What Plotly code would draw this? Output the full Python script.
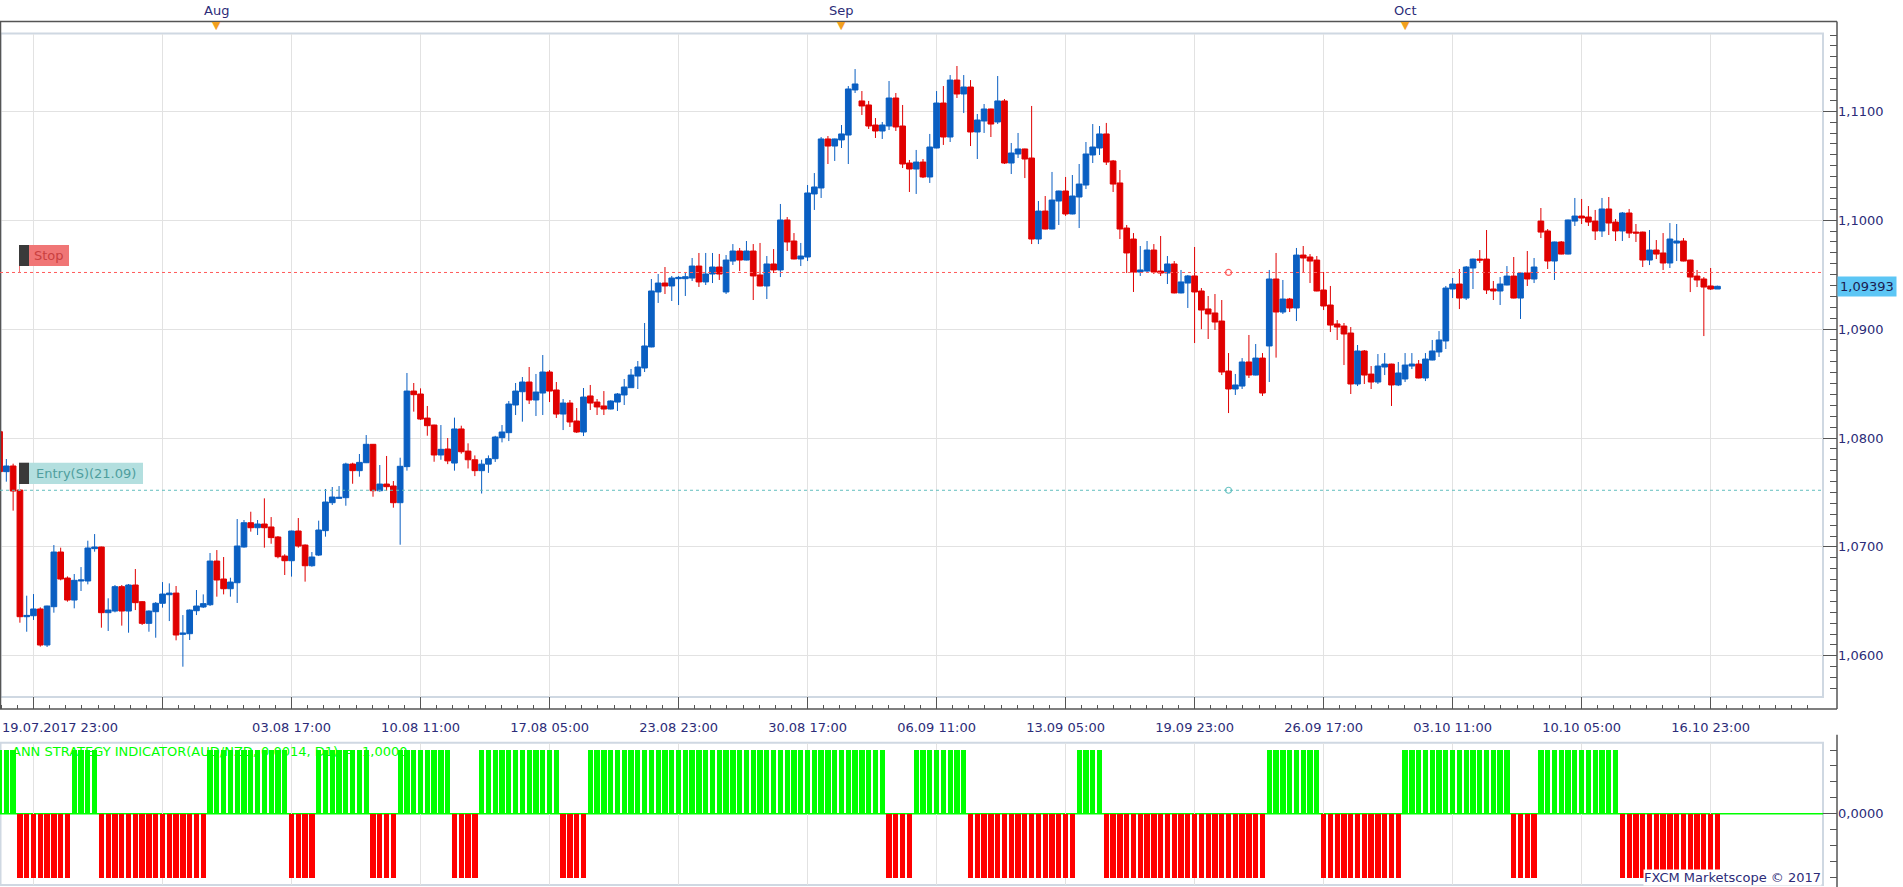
import plotly.graph_objects as go

# ---------------- data ----------------
FIRST_INDEX = -5  # candle index of the left-most candle (19.07.2017 23:00)

OPEN = [1.08058, 1.07691, 1.07743, 1.07522, 1.06359, 1.06368, 1.06430, 1.06099, 1.06451, 1.06953,
        1.06714, 1.06512, 1.06687, 1.06687, 1.06984, 1.06999, 1.06396, 1.06411, 1.06635, 1.06411,
        1.06650, 1.06497, 1.06298, 1.06405, 1.06482, 1.06561, 1.06576, 1.06197, 1.06203, 1.06414,
        1.06448, 1.06469, 1.06870, 1.06705, 1.06616, 1.06671, 1.06999, 1.07222, 1.07176, 1.07210,
        1.07183, 1.07091, 1.06916, 1.06873, 1.07146, 1.07017, 1.06827, 1.06925, 1.07149, 1.07406,
        1.07446, 1.07452, 1.07761, 1.07700, 1.07773, 1.07942, 1.07516, 1.07577, 1.07559, 1.07406,
        1.07737, 1.08431, 1.08404, 1.08183, 1.08119, 1.07844, 1.07899, 1.07770, 1.08083, 1.07880,
        1.07800, 1.07700, 1.07760, 1.07810, 1.08003, 1.08049, 1.08303, 1.08425, 1.08514, 1.08349,
        1.08413, 1.08606, 1.08441, 1.08220, 1.08321, 1.08156, 1.08055, 1.08386, 1.08330, 1.08294,
        1.08266, 1.08330, 1.08395, 1.08462, 1.08569, 1.08643, 1.08836, 1.09341, 1.09423, 1.09396,
        1.09463, 1.09463, 1.09469, 1.09579, 1.09433, 1.09506, 1.09570, 1.09341, 1.09625, 1.09717,
        1.09634, 1.09717, 1.09497, 1.09396, 1.09598, 1.09543, 1.10002, 1.09809, 1.09644, 1.09662,
        1.10241, 1.10296, 1.10746, 1.10681, 1.10737, 1.10782, 1.11196, 1.11095, 1.11058, 1.10874,
        1.10819, 1.10865, 1.11122, 1.10865, 1.10525, 1.10470, 1.10534, 1.10397, 1.10663, 1.11076,
        1.10764, 1.11287, 1.11159, 1.11223, 1.10810, 1.10911, 1.11021, 1.10902, 1.11095, 1.10525,
        1.10608, 1.10654, 1.10571, 1.09827, 1.10084, 1.09919, 1.10176, 1.10268, 1.10057, 1.10213,
        1.10323, 1.10599, 1.10663, 1.10792, 1.10544, 1.10342, 1.09928, 1.09827, 1.09524, 1.09533,
        1.09726, 1.09533, 1.09515, 1.09598, 1.09332, 1.09423, 1.09488, 1.09350, 1.09185, 1.09148,
        1.09074, 1.08615, 1.08450, 1.08477, 1.08698, 1.08578, 1.08734, 1.08845, 1.09460, 1.09157,
        1.09276, 1.09194, 1.09680, 1.09662, 1.09634, 1.09359, 1.09221, 1.09047, 1.09028, 1.08964,
        1.08496, 1.08799, 1.08587, 1.08514, 1.08652, 1.08679, 1.08487, 1.08542, 1.08661, 1.08679,
        1.08551, 1.08716, 1.08790, 1.08891, 1.09368, 1.09414, 1.09285, 1.09561, 1.09643, 1.09643,
        1.09368, 1.09350, 1.09405, 1.09487, 1.09285, 1.09515, 1.09460, 1.09992, 1.09901, 1.09625,
        1.09800, 1.09689, 1.09992, 1.10038, 1.10029, 1.09992, 1.09901, 1.10103, 1.09983, 1.09901,
        1.10066, 1.09891, 1.09891, 1.09634, 1.09726, 1.09699, 1.09607, 1.09790, 1.09809, 1.09634,
        1.09487, 1.09460, 1.09396, 1.09368]

HIGH = [1.08073, 1.07807, 1.07764, 1.07528, 1.06552, 1.06567, 1.06445, 1.06460, 1.07017, 1.06993,
        1.06729, 1.06751, 1.06815, 1.07057, 1.07118, 1.07002, 1.06528, 1.06650, 1.06650, 1.06659,
        1.06797, 1.06503, 1.06417, 1.06494, 1.06677, 1.06665, 1.06641, 1.06374, 1.06426, 1.06604,
        1.06564, 1.06944, 1.06971, 1.06907, 1.06717, 1.07256, 1.07247, 1.07323, 1.07247, 1.07446,
        1.07274, 1.07100, 1.06932, 1.07149, 1.07265, 1.07023, 1.06953, 1.07241, 1.07532, 1.07550,
        1.07559, 1.07773, 1.07773, 1.07853, 1.08027, 1.07945, 1.07752, 1.07835, 1.07605, 1.07819,
        1.08597, 1.08505, 1.08456, 1.08294, 1.08122, 1.08119, 1.08000, 1.08187, 1.08113, 1.07951,
        1.07840, 1.07800, 1.07840, 1.08020, 1.08119, 1.08340, 1.08505, 1.08560, 1.08652, 1.08588,
        1.08762, 1.08624, 1.08514, 1.08358, 1.08349, 1.08275, 1.08459, 1.08487, 1.08358, 1.08431,
        1.08346, 1.08413, 1.08542, 1.08634, 1.08707, 1.09056, 1.09460, 1.09506, 1.09570, 1.09488,
        1.09488, 1.09515, 1.09653, 1.09699, 1.09699, 1.09699, 1.09690, 1.09680, 1.09781, 1.09745,
        1.09809, 1.09781, 1.09791, 1.09671, 1.09735, 1.10149, 1.10029, 1.09882, 1.09791, 1.10323,
        1.10433, 1.10764, 1.10773, 1.10749, 1.10874, 1.11232, 1.11388, 1.11186, 1.11095, 1.10938,
        1.10902, 1.11278, 1.11168, 1.11058, 1.10553, 1.10645, 1.10562, 1.10792, 1.11186, 1.11232,
        1.11333, 1.11416, 1.11333, 1.11287, 1.10975, 1.11067, 1.11024, 1.11324, 1.11113, 1.10709,
        1.10801, 1.10657, 1.11049, 1.10176, 1.10222, 1.10443, 1.10271, 1.10397, 1.10415, 1.10516,
        1.10718, 1.10883, 1.10865, 1.10893, 1.10553, 1.10461, 1.09956, 1.09882, 1.09763, 1.09809,
        1.09781, 1.09855, 1.09671, 1.09625, 1.09543, 1.09497, 1.09754, 1.09377, 1.09304, 1.09322,
        1.09267, 1.08780, 1.08588, 1.08734, 1.08946, 1.08863, 1.08780, 1.09543, 1.09699, 1.09451,
        1.09286, 1.09745, 1.09763, 1.09689, 1.09671, 1.09524, 1.09396, 1.09083, 1.09056, 1.09019,
        1.08854, 1.08808, 1.08661, 1.08771, 1.08780, 1.08682, 1.08698, 1.08780, 1.08780, 1.08716,
        1.08780, 1.08900, 1.08982, 1.09396, 1.09469, 1.09552, 1.09579, 1.09647, 1.09726, 1.09910,
        1.09442, 1.09478, 1.09579, 1.09662, 1.09518, 1.09717, 1.09653, 1.10112, 1.09919, 1.09803,
        1.09809, 1.10005, 1.10204, 1.10195, 1.10130, 1.10094, 1.10204, 1.10213, 1.10011, 1.10075,
        1.10103, 1.09965, 1.09895, 1.09910, 1.09818, 1.09882, 1.09974, 1.09965, 1.09836, 1.09637,
        1.09543, 1.09478, 1.09561, 1.09399]

LOW = [1.07675, 1.07599, 1.07333, 1.06304, 1.06221, 1.06329, 1.06084, 1.06081, 1.06396, 1.06693,
       1.06497, 1.06436, 1.06595, 1.06656, 1.06956, 1.06258, 1.06228, 1.06399, 1.06277, 1.06212,
       1.06420, 1.06283, 1.06221, 1.06166, 1.06442, 1.06319, 1.06142, 1.05900, 1.06145, 1.06374,
       1.06439, 1.06457, 1.06543, 1.06564, 1.06543, 1.06485, 1.06993, 1.07140, 1.07109, 1.06993,
       1.07029, 1.06895, 1.06742, 1.06727, 1.06993, 1.06681, 1.06818, 1.06916, 1.07094, 1.07385,
       1.07440, 1.07378, 1.07580, 1.07645, 1.07770, 1.07461, 1.07507, 1.07513, 1.07360, 1.07020,
       1.07700, 1.08242, 1.08165, 1.08021, 1.07782, 1.07800, 1.07760, 1.07700, 1.07856, 1.07720,
       1.07650, 1.07490, 1.07680, 1.07780, 1.07960, 1.07972, 1.08211, 1.08150, 1.08312, 1.08202,
       1.08211, 1.08330, 1.08184, 1.08073, 1.08101, 1.08046, 1.08018, 1.08257, 1.08211, 1.08211,
       1.08263, 1.08248, 1.08303, 1.08462, 1.08450, 1.08606, 1.08833, 1.09240, 1.09322, 1.09258,
       1.09221, 1.09304, 1.09442, 1.09387, 1.09405, 1.09423, 1.09451, 1.09322, 1.09589, 1.09533,
       1.09631, 1.09267, 1.09393, 1.09276, 1.09515, 1.09478, 1.09717, 1.09641, 1.09579, 1.09625,
       1.10094, 1.10204, 1.10516, 1.10544, 1.10663, 1.10516, 1.11168, 1.10966, 1.10838, 1.10755,
       1.10746, 1.10828, 1.10819, 1.10479, 1.10259, 1.10241, 1.10387, 1.10342, 1.10660, 1.10691,
       1.10718, 1.11122, 1.10984, 1.10681, 1.10562, 1.10801, 1.10764, 1.10883, 1.10516, 1.10424,
       1.10571, 1.10387, 1.09781, 1.09781, 1.09916, 1.09916, 1.09956, 1.10039, 1.10054, 1.09928,
       1.10286, 1.10525, 1.10599, 1.10507, 1.10259, 1.09827, 1.09515, 1.09341, 1.09488, 1.09515,
       1.09506, 1.09488, 1.09414, 1.09328, 1.09328, 1.09194, 1.08872, 1.08999, 1.08909, 1.08992,
       1.08578, 1.08229, 1.08395, 1.08450, 1.08551, 1.08575, 1.08386, 1.08514, 1.08738, 1.09139,
       1.09157, 1.09074, 1.09515, 1.09423, 1.09347, 1.09175, 1.08973, 1.08900, 1.08670, 1.08404,
       1.08477, 1.08496, 1.08450, 1.08496, 1.08578, 1.08294, 1.08477, 1.08514, 1.08633, 1.08548,
       1.08523, 1.08713, 1.08744, 1.08817, 1.09285, 1.09184, 1.09267, 1.09368, 1.09607, 1.09322,
       1.09267, 1.09221, 1.09402, 1.09282, 1.09093, 1.09396, 1.09423, 1.09836, 1.09552, 1.09451,
       1.09686, 1.09686, 1.09947, 1.09965, 1.09947, 1.09818, 1.09846, 1.09864, 1.09809, 1.09809,
       1.09836, 1.09800, 1.09570, 1.09588, 1.09643, 1.09543, 1.09561, 1.09625, 1.09622, 1.09340,
       1.09386, 1.08936, 1.09359, 1.09368]

CLOSE = [1.07691, 1.07743, 1.07513, 1.06359, 1.06371, 1.06430, 1.06099, 1.06457, 1.06953, 1.06705,
         1.06512, 1.06693, 1.06696, 1.06990, 1.06999, 1.06396, 1.06420, 1.06635, 1.06411, 1.06650,
         1.06488, 1.06298, 1.06411, 1.06482, 1.06567, 1.06576, 1.06191, 1.06209, 1.06420, 1.06457,
         1.06479, 1.06870, 1.06696, 1.06616, 1.06677, 1.07008, 1.07222, 1.07176, 1.07210, 1.07176,
         1.07085, 1.06910, 1.06873, 1.07146, 1.07008, 1.06827, 1.06907, 1.07155, 1.07412, 1.07458,
         1.07455, 1.07761, 1.07700, 1.07776, 1.07942, 1.07516, 1.07577, 1.07553, 1.07406, 1.07740,
         1.08431, 1.08398, 1.08174, 1.08113, 1.07844, 1.07896, 1.07790, 1.08083, 1.07874, 1.07800,
         1.07700, 1.07760, 1.07810, 1.08009, 1.08055, 1.08312, 1.08431, 1.08514, 1.08349, 1.08422,
         1.08606, 1.08431, 1.08220, 1.08321, 1.08147, 1.08055, 1.08376, 1.08321, 1.08285, 1.08266,
         1.08340, 1.08404, 1.08468, 1.08578, 1.08652, 1.08845, 1.09350, 1.09423, 1.09396, 1.09469,
         1.09475, 1.09481, 1.09579, 1.09433, 1.09506, 1.09570, 1.09506, 1.09634, 1.09717, 1.09634,
         1.09717, 1.09488, 1.09396, 1.09598, 1.09543, 1.10002, 1.09800, 1.09644, 1.09671, 1.10250,
         1.10305, 1.10746, 1.10681, 1.10746, 1.10792, 1.11205, 1.11251, 1.11049, 1.10865, 1.10819,
         1.10874, 1.11122, 1.10856, 1.10516, 1.10470, 1.10534, 1.10397, 1.10672, 1.11076, 1.10764,
         1.11287, 1.11159, 1.11223, 1.10810, 1.10920, 1.11021, 1.10883, 1.11095, 1.10525, 1.10617,
         1.10654, 1.10562, 1.09827, 1.10084, 1.09919, 1.10185, 1.10268, 1.10057, 1.10222, 1.10332,
         1.10608, 1.10672, 1.10792, 1.10534, 1.10332, 1.09919, 1.09699, 1.09524, 1.09543, 1.09726,
         1.09524, 1.09515, 1.09598, 1.09332, 1.09433, 1.09488, 1.09341, 1.09175, 1.09139, 1.09065,
         1.08606, 1.08450, 1.08487, 1.08698, 1.08578, 1.08734, 1.08413, 1.09460, 1.09157, 1.09276,
         1.09194, 1.09680, 1.09653, 1.09625, 1.09350, 1.09212, 1.09037, 1.09019, 1.08955, 1.08496,
         1.08799, 1.08578, 1.08514, 1.08661, 1.08679, 1.08487, 1.08597, 1.08670, 1.08679, 1.08551,
         1.08725, 1.08799, 1.08900, 1.09377, 1.09414, 1.09285, 1.09570, 1.09643, 1.09634, 1.09359,
         1.09350, 1.09414, 1.09487, 1.09285, 1.09515, 1.09460, 1.09570, 1.09891, 1.09625, 1.09800,
         1.09689, 1.10002, 1.10038, 1.10020, 1.09983, 1.09901, 1.10103, 1.09974, 1.09901, 1.10066,
         1.09882, 1.09882, 1.09634, 1.09726, 1.09689, 1.09607, 1.09827, 1.09809, 1.09625, 1.09478,
         1.09451, 1.09386, 1.09368, 1.09393]

# ANN strategy indicator: +1 (green) / -1 (red), one value per candle
SIGNAL = ([1] * 3 + [-1] * 8 + [1] * 4 + [-1] * 16 + [1] * 12 + [-1] * 4 + [1] * 8 + [-1] * 4 +
          [1] * 8 + [-1] * 4 + [1] * 12 + [-1] * 4 + [1] * 44 + [-1] * 4 + [1] * 8 + [-1] * 16 +
          [1] * 4 + [-1] * 24 + [1] * 8 + [-1] * 12 + [1] * 16 + [-1] * 4 + [1] * 12 + [-1] * 15)

X_TICK_IDX = [0, 19, 38, 57, 76, 95, 114, 133, 152, 171, 190, 209, 228, 247]
X_TICK_TEXT = ["", "", "03.08 17:00", "10.08 11:00", "17.08 05:00", "23.08 23:00", "30.08 17:00",
               "06.09 11:00", "13.09 05:00", "19.09 23:00", "26.09 17:00", "03.10 11:00",
               "10.10 05:00", "16.10 23:00"]
FIRST_LABEL = "19.07.2017 23:00"
MONTHS = ["Aug", "Sep", "Oct"]
MONTH_IDX = [27, 119, 202]

Y_TICK_VALS = [1.06, 1.07, 1.08, 1.09, 1.10, 1.11]
Y_TICK_TEXT = ["1,0600", "1,0700", "1,0800", "1,0900", "1,1000", "1,1100"]

STOP_PRICE = 1.0952
ENTRY_PRICE = 1.0752
ENTRY_IDX = 176
LAST_PRICE = 1.09393
LAST_TEXT = "1,09393"
IND_TITLE = "ANN STRATEGY INDICATOR(AUD/NZD, 0.0014, D1) = -1,0000"

# ---------------- layout constants (pixels) ----------------
W, H = 1903, 887
PLOT_R = 1823
AXIS_X = 1837
AXIS_TOP, MAIN_TOP, MAIN_BOT, AXIS_BOT = 21.5, 33.5, 697, 709
IND_TOP, IND_BOT = 742.7, 885
X0_PX, STEP_PX = 33.5, 6.79
PX_PER_PRICE = 10890.0
Y_REF_PRICE, Y_REF_PX = 1.11, 111.3
IND_PX_PER_UNIT = 63.85

FONT = "DejaVu Sans"
NAVY = "#2c2c78"
AXIS_C = "#555555"
GRID_C = "#e2e2e2"
FRAME_C = "#cfd8e2"


def px(x):
    return x / W


def py(y):
    return 1 - y / H


x_range = [(0 - X0_PX) / STEP_PX, (PLOT_R - X0_PX) / STEP_PX]
y_range = [Y_REF_PRICE - (MAIN_BOT - Y_REF_PX) / PX_PER_PRICE,
           Y_REF_PRICE + (Y_REF_PX - MAIN_TOP) / PX_PER_PRICE]
ind_half = 1 + (IND_BOT - IND_TOP - 2 * IND_PX_PER_UNIT) / 2 / IND_PX_PER_UNIT
y2_range = [-ind_half, ind_half]

idx = list(range(FIRST_INDEX, FIRST_INDEX + len(OPEN)))

fig = go.Figure()

fig.add_trace(go.Candlestick(
    x=idx, open=OPEN, high=HIGH, low=LOW, close=CLOSE,
    increasing=dict(line=dict(color="#0a5fc2", width=1), fillcolor="#0a5fc2"),
    decreasing=dict(line=dict(color="#e00000", width=1), fillcolor="#e00000"),
    whiskerwidth=0, xaxis="x", yaxis="y", showlegend=False, hoverinfo="skip"))

fig.add_trace(go.Scatter(
    x=[ENTRY_IDX, ENTRY_IDX], y=[STOP_PRICE, ENTRY_PRICE], mode="markers",
    marker=dict(symbol="circle-open", size=6, color=["#ff6060", "#6cc4c4"], line=dict(width=1.2)),
    xaxis="x", yaxis="y", showlegend=False, hoverinfo="skip"))

fig.add_trace(go.Bar(
    x=idx, y=SIGNAL, width=0.78,
    marker=dict(color=["#00ff00" if s > 0 else "#ff0000" for s in SIGNAL], line=dict(width=0)),
    xaxis="x3", yaxis="y2", showlegend=False, hoverinfo="skip"))

tick_font = dict(family=FONT, size=13, color=NAVY)

top_major = [4 + 23 * n for n in range(-1, 12)]
top_minor = [15.5 + 23 * n for n in range(-1, 12)]

fig.update_layout(
    width=W, height=H, margin=dict(l=0, r=0, t=0, b=0),
    paper_bgcolor="white", plot_bgcolor="white",
    boxgap=0.16, boxgroupgap=0, bargap=0,
    showlegend=False,
    xaxis=dict(domain=[0, px(PLOT_R)], range=x_range, anchor="free", position=py(AXIS_BOT),
               tickmode="array", tickvals=X_TICK_IDX, ticktext=X_TICK_TEXT,
               ticks="inside", ticklen=12, tickwidth=1, tickcolor=AXIS_C,
               ticklabelstandoff=9,
               showgrid=True, gridcolor=GRID_C, gridwidth=1, zeroline=False, showline=False,
               tickfont=tick_font, rangeslider=dict(visible=False), fixedrange=True,
               minor=dict(tick0=0, dtick=19 / 8, ticks="inside", ticklen=4, tickwidth=1,
                          tickcolor=AXIS_C, showgrid=False)),
    xaxis2=dict(overlaying="x", side="top", anchor="free", position=py(AXIS_TOP),
                range=x_range, tickmode="array", tickvals=top_major,
                ticktext=["" for _ in top_major], ticks="inside", ticklen=7, tickwidth=1,
                tickcolor=AXIS_C, showgrid=False, zeroline=False, showline=False,
                fixedrange=True,
                minor=dict(tickmode="array", tickvals=top_minor, ticks="inside", ticklen=3.5,
                           tickwidth=1, tickcolor=AXIS_C, showgrid=False)),
    xaxis3=dict(domain=[0, px(PLOT_R)], range=x_range, anchor="y2",
                tickmode="array", tickvals=X_TICK_IDX, showticklabels=False, ticks="",
                showgrid=True, gridcolor=GRID_C, gridwidth=1, zeroline=False, showline=False,
                fixedrange=True),
    yaxis=dict(domain=[py(MAIN_BOT), py(MAIN_TOP)], range=y_range, side="right",
               anchor="free", position=px(AXIS_X),
               tickmode="array", tickvals=Y_TICK_VALS, ticktext=Y_TICK_TEXT,
               ticks="inside", ticklen=14, tickwidth=1, tickcolor=AXIS_C,
               showgrid=True, gridcolor=GRID_C, gridwidth=1, zeroline=False, showline=False,
               tickfont=tick_font, fixedrange=True,
               minor=dict(tick0=1.0, dtick=0.001, ticks="inside", ticklen=7, tickwidth=1,
                          tickcolor=AXIS_C, showgrid=False)),
    yaxis2=dict(domain=[py(IND_BOT), py(IND_TOP)], range=y2_range, side="right",
                anchor="free", position=px(AXIS_X),
                tickmode="array", tickvals=[0], ticktext=["0,0000"],
                ticks="inside", ticklen=14, tickwidth=1, tickcolor=AXIS_C,
                showgrid=False, zeroline=False, showline=False, tickfont=tick_font,
                fixedrange=True,
                minor=dict(tick0=0, dtick=0.25, ticks="inside", ticklen=7, tickwidth=1,
                           tickcolor=AXIS_C, showgrid=False)),
)

shapes = []
# light inner frames
for top, bot in [(MAIN_TOP, MAIN_BOT), (IND_TOP, IND_BOT)]:
    shapes.append(dict(type="rect", xref="paper", yref="paper", x0=px(0.5), x1=px(PLOT_R),
                       y0=py(bot), y1=py(top), line=dict(color=FRAME_C, width=2), layer="below"))
# dark axis box around main chart
for (xa, ya, xb, yb) in [(0, AXIS_TOP, AXIS_X, AXIS_TOP), (AXIS_X, AXIS_TOP, AXIS_X, AXIS_BOT),
                         (0, AXIS_BOT, AXIS_X, AXIS_BOT), (0.5, AXIS_TOP, 0.5, AXIS_BOT),
                         (AXIS_X, IND_TOP - 8, AXIS_X, H)]:
    shapes.append(dict(type="line", xref="paper", yref="paper", x0=px(xa), x1=px(xb),
                       y0=py(ya), y1=py(yb), line=dict(color=AXIS_C, width=1.5)))
# indicator zero line
shapes.append(dict(type="line", xref="paper", yref="y2", x0=0, x1=px(PLOT_R), y0=0, y1=0,
                   line=dict(color="#00ff00", width=1.5), layer="below"))
# stop / entry dotted lines
shapes.append(dict(type="line", xref="paper", yref="y", x0=0, x1=px(PLOT_R),
                   y0=STOP_PRICE, y1=STOP_PRICE, line=dict(color="#ff5a5a", width=1, dash="3px,3px")))
shapes.append(dict(type="line", xref="paper", yref="y", x0=0, x1=px(PLOT_R),
                   y0=ENTRY_PRICE, y1=ENTRY_PRICE, line=dict(color="#62bfbf", width=1, dash="3px,3px")))
# stop label
shapes.append(dict(type="rect", xref="paper", yref="paper", x0=px(19), x1=px(29),
                   y0=py(266), y1=py(245), fillcolor="#3a3a3a", line=dict(width=0)))
shapes.append(dict(type="rect", xref="paper", yref="paper", x0=px(29), x1=px(69),
                   y0=py(266), y1=py(245), fillcolor="#f07676", line=dict(width=0)))
shapes.append(dict(type="line", xref="paper", yref="paper", x0=px(19.5), x1=px(19.5),
                   y0=py(266), y1=py(273), line=dict(color="#f07676", width=1)))
# entry label
shapes.append(dict(type="rect", xref="paper", yref="paper", x0=px(19), x1=px(29),
                   y0=py(484), y1=py(462.7), fillcolor="#3a3a3a", line=dict(width=0)))
shapes.append(dict(type="rect", xref="paper", yref="paper", x0=px(29), x1=px(143),
                   y0=py(484), y1=py(462.7), fillcolor="#b3dfdf", line=dict(width=0)))
shapes.append(dict(type="line", xref="paper", yref="paper", x0=px(19.5), x1=px(19.5),
                   y0=py(484), y1=py(490.5), line=dict(color="#9fd6d6", width=1)))
fig.update_layout(shapes=shapes)

ann = []
ann.append(dict(text=FIRST_LABEL, xref="paper", yref="paper", x=0, y=py(727.7),
                xanchor="left", yanchor="middle", showarrow=False, font=tick_font))
for name, k in zip(MONTHS, MONTH_IDX):
    ann.append(dict(text=name, xref="x", yref="paper", x=k, y=py(10.5), xanchor="center",
                    yanchor="middle", showarrow=False, font=tick_font))
    ann.append(dict(text="\u25bc", xref="x", yref="paper", x=k, y=py(25.5), xanchor="center",
                    yanchor="middle", showarrow=False,
                    font=dict(family=FONT, size=11, color="#f2a01e")))
ann.append(dict(text="Stop", xref="paper", yref="paper", x=px(49), y=py(255.5),
                xanchor="center", yanchor="middle", showarrow=False,
                font=dict(family=FONT, size=13, color="#c94040")))
ann.append(dict(text="Entry(S)(21.09)", xref="paper", yref="paper", x=px(86), y=py(473.3),
                xanchor="center", yanchor="middle", showarrow=False,
                font=dict(family=FONT, size=13, color="#4f9e9e")))
ann.append(dict(text=LAST_TEXT, xref="paper", yref="y", x=px(AXIS_X), y=LAST_PRICE,
                xanchor="left", yanchor="middle", showarrow=False, bgcolor="#5cc6f5",
                borderpad=2, font=dict(family=FONT, size=13, color="#1c1c50")))
ann.append(dict(text=IND_TITLE, xref="paper", yref="paper", x=px(9.8), y=py(751.7),
                xanchor="left", yanchor="middle", showarrow=False,
                font=dict(family=FONT, size=13, color="#00ff00")))
ann.append(dict(text="FXCM Marketscope \u00a9 2017", xref="paper", yref="paper", x=px(1822),
                y=py(886), xanchor="right", yanchor="bottom", showarrow=False, bgcolor="white",
                borderpad=0, font=dict(family=FONT, size=13, color=NAVY)))
fig.update_layout(annotations=ann)

fig.write_html("out.html", config={"displayModeBar": False},
               post_script="document.body.style.margin='0';")
